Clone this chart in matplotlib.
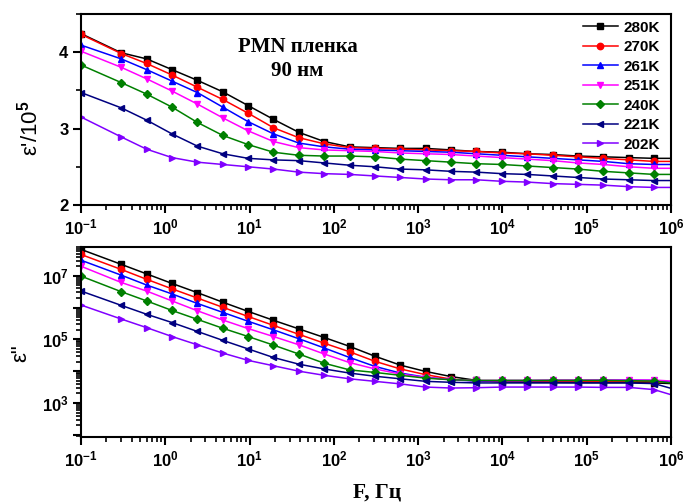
import numpy as np
import matplotlib
matplotlib.use("Agg")
import matplotlib.pyplot as plt
from matplotlib.ticker import FixedLocator, NullFormatter, FixedFormatter

plt.rcParams['font.family'] = ['Liberation Sans', 'DejaVu Sans']
plt.rcParams['font.weight'] = 'bold'
plt.rcParams['mathtext.fontset'] = 'custom'
plt.rcParams['mathtext.rm'] = 'Liberation Sans:bold'
plt.rcParams['mathtext.it'] = 'Liberation Sans:bold'
plt.rcParams['mathtext.bf'] = 'Liberation Sans:bold'
plt.rcParams['mathtext.default'] = 'rm'

freq = [0.1, 0.3, 0.6, 1.2, 2.4, 4.8, 9.6, 19.2, 38.4, 76.8, 153.6, 307.2, 614.4,
        1228.8, 2457.6, 4915.2, 9830.4, 19660.8, 39321.6, 78643.2, 157286.4,
        314572.8, 629145.6, 1e6]

labels = ['280K', '270K', '261K', '251K', '240K', '221K', '202K']
colors = ['#000000', '#FF0000', '#0000FF', '#FF00FF', '#008000', '#000080', '#8000FF']
markers = ['s', 'o', '^', 'v', 'D', '<', '>']

x_exps = [-1, 0, 1, 2, 3, 4, 5, 6]
y2_exps = [2, 3, 4, 5, 6, 7]
y2_label_exps = [3, 5, 7]

# epsilon' / 1e5
eps1_280 = [4.24, 3.99, 3.91, 3.77, 3.63, 3.48, 3.30, 3.12, 2.95, 2.83, 2.76, 2.75, 2.74,
            2.74, 2.72, 2.70, 2.69, 2.67, 2.66, 2.64, 2.63, 2.62, 2.61, 2.61]
eps1_270 = [4.23, 3.98, 3.85, 3.70, 3.54, 3.38, 3.20, 3.01, 2.88, 2.80, 2.75, 2.74, 2.73,
            2.72, 2.71, 2.70, 2.68, 2.67, 2.65, 2.63, 2.61, 2.59, 2.57, 2.57]
eps1_261 = [4.09, 3.91, 3.77, 3.62, 3.47, 3.28, 3.09, 2.93, 2.81, 2.76, 2.73, 2.72, 2.71,
            2.70, 2.69, 2.67, 2.65, 2.63, 2.61, 2.59, 2.57, 2.54, 2.53, 2.53]
eps1_251 = [4.01, 3.80, 3.65, 3.49, 3.32, 3.14, 2.97, 2.83, 2.75, 2.72, 2.71, 2.70, 2.68,
            2.67, 2.66, 2.64, 2.62, 2.60, 2.58, 2.55, 2.53, 2.50, 2.48, 2.48]
eps1_240 = [3.83, 3.60, 3.45, 3.28, 3.08, 2.91, 2.79, 2.69, 2.65, 2.64, 2.64, 2.63, 2.60,
            2.58, 2.56, 2.54, 2.53, 2.51, 2.49, 2.47, 2.44, 2.42, 2.40, 2.40]
eps1_221 = [3.47, 3.27, 3.11, 2.93, 2.77, 2.67, 2.61, 2.59, 2.58, 2.55, 2.52, 2.50, 2.47,
            2.46, 2.44, 2.43, 2.41, 2.40, 2.38, 2.36, 2.34, 2.33, 2.32, 2.32]
eps1_202 = [3.15, 2.89, 2.73, 2.62, 2.56, 2.53, 2.50, 2.47, 2.43, 2.41, 2.40, 2.38, 2.36,
            2.34, 2.33, 2.33, 2.31, 2.30, 2.28, 2.27, 2.26, 2.24, 2.23, 2.23]

# log10 epsilon''
leps2_280 = [7.83, 7.36, 7.06, 6.76, 6.47, 6.17, 5.88, 5.60, 5.33, 5.06, 4.78, 4.47, 4.19,
             3.99, 3.83, 3.71, 3.66, 3.65, 3.65, 3.64, 3.64, 3.64, 3.63, 3.61]
leps2_270 = [7.67, 7.20, 6.89, 6.59, 6.30, 6.01, 5.72, 5.44, 5.16, 4.88, 4.61, 4.31, 4.07,
             3.89, 3.75, 3.69, 3.68, 3.68, 3.68, 3.68, 3.68, 3.68, 3.67, 3.66]
leps2_261 = [7.49, 7.02, 6.71, 6.43, 6.13, 5.85, 5.57, 5.30, 5.02, 4.73, 4.43, 4.15, 3.94,
             3.81, 3.73, 3.69, 3.70, 3.70, 3.71, 3.71, 3.72, 3.72, 3.71, 3.66]
leps2_251 = [7.30, 6.79, 6.52, 6.21, 5.90, 5.61, 5.34, 5.09, 4.83, 4.54, 4.27, 4.07, 3.91,
             3.80, 3.73, 3.71, 3.71, 3.71, 3.72, 3.72, 3.72, 3.72, 3.72, 3.69]
leps2_240 = [6.99, 6.50, 6.21, 5.91, 5.63, 5.35, 5.09, 4.82, 4.54, 4.25, 4.04, 3.96, 3.87,
             3.78, 3.73, 3.71, 3.71, 3.71, 3.71, 3.71, 3.71, 3.70, 3.69, 3.63]
leps2_221 = [6.52, 6.07, 5.79, 5.53, 5.25, 4.97, 4.70, 4.43, 4.22, 4.07, 3.94, 3.84, 3.76,
             3.68, 3.65, 3.63, 3.63, 3.63, 3.63, 3.63, 3.63, 3.63, 3.61, 3.46]
leps2_202 = [6.08, 5.64, 5.37, 5.09, 4.83, 4.57, 4.34, 4.17, 4.00, 3.87, 3.76, 3.68, 3.60,
             3.50, 3.47, 3.48, 3.50, 3.50, 3.50, 3.50, 3.49, 3.49, 3.42, 3.26]

eps1 = [eps1_280, eps1_270, eps1_261, eps1_251, eps1_240, eps1_221, eps1_202]
leps2 = [leps2_280, leps2_270, leps2_261, leps2_251, leps2_240, leps2_221, leps2_202]

fig = plt.figure(figsize=(6.84, 5.03), dpi=100)
ax1 = fig.add_axes([0.1184, 0.5924, 0.8626, 0.3803])
ax2 = fig.add_axes([0.1184, 0.1312, 0.8626, 0.3783])

f = np.array(freq)
mk_idx = list(range(len(freq) - 1))
msizes = {'s': 4.0, 'o': 4.6, '^': 4.8, 'v': 4.8, 'D': 4.0, '<': 4.8, '>': 4.8}
for i in range(len(labels)):
    ms = msizes[markers[i]]
    ax1.plot(f, eps1[i], color=colors[i], marker=markers[i], markevery=mk_idx,
             ms=ms, lw=1.1, label=labels[i])
    ax2.plot(f, 10 ** np.array(leps2[i]), color=colors[i], marker=markers[i], markevery=mk_idx,
             ms=ms, lw=1.1, label=labels[i])

x_major = [10.0 ** e for e in x_exps]
x_minor = [m * 10.0 ** e for e in x_exps[:-1] for m in range(2, 10)]
x_lbls = [r'$10^{%d}$' % e for e in x_exps]

for ax in (ax1, ax2):
    ax.set_xscale('log')
    ax.set_xlim(0.1, 1e6)
    ax.xaxis.set_major_locator(FixedLocator(x_major))
    ax.xaxis.set_minor_locator(FixedLocator(x_minor))
    ax.xaxis.set_major_formatter(FixedFormatter(x_lbls))
    ax.xaxis.set_minor_formatter(NullFormatter())
    ax.tick_params(which='major', direction='out', length=6, width=1.5, labelsize=12, pad=3)
    ax.tick_params(which='minor', direction='out', length=3.5, width=1.2)
    for s in ax.spines.values():
        s.set_linewidth(1.5)
    ax.tick_params(top=False, right=False, which='both')

ax1.set_ylim(2, 4.5)
ax1.yaxis.set_major_locator(FixedLocator([2, 3, 4]))
ax1.yaxis.set_minor_locator(FixedLocator([2.5, 3.5, 4.5]))
ax1.set_ylabel("ε'/10$^{5}$", fontsize=16)
ax1.yaxis.set_label_coords(-0.066, 0.40)

ax2.set_yscale('log')
ax2.set_ylim(85, 8.2e7)
y2_major = [10.0 ** e for e in y2_exps]
y2_minor = [m * 10.0 ** e for e in [1] + y2_exps for m in range(2, 10)]
y2_minor = [v for v in y2_minor if 85 <= v <= 8.2e7]
ax2.yaxis.set_major_locator(FixedLocator(y2_major))
ax2.yaxis.set_minor_locator(FixedLocator(y2_minor))
ax2.yaxis.set_major_formatter(FixedFormatter(
    [r'$10^{%d}$' % e if e in y2_label_exps else '' for e in y2_exps]))
ax2.yaxis.set_minor_formatter(NullFormatter())
ax2.set_ylabel('ε"', fontsize=16)
ax2.yaxis.set_label_coords(-0.085, 0.44)

leg = ax1.legend(loc='upper right', bbox_to_anchor=(0.9915, 0.995), frameon=False,
                 fontsize=11, handlelength=2.3, labelspacing=0.36, handletextpad=0.35,
                 borderaxespad=0, borderpad=0.4)

ax1.text(0.367, 0.763, 'PMN пленка\n90 нм', transform=ax1.transAxes, ha='center', va='center',
         fontsize=15, family=['Liberation Serif', 'DejaVu Serif'], fontweight='bold',
         linespacing=1.27)

fig.text(0.551, 0.021, 'F, Гц', ha='center', va='center', fontsize=15.5,
         family=['Liberation Serif', 'DejaVu Serif'], fontweight='bold')

fig.savefig('out.png', dpi=100)
